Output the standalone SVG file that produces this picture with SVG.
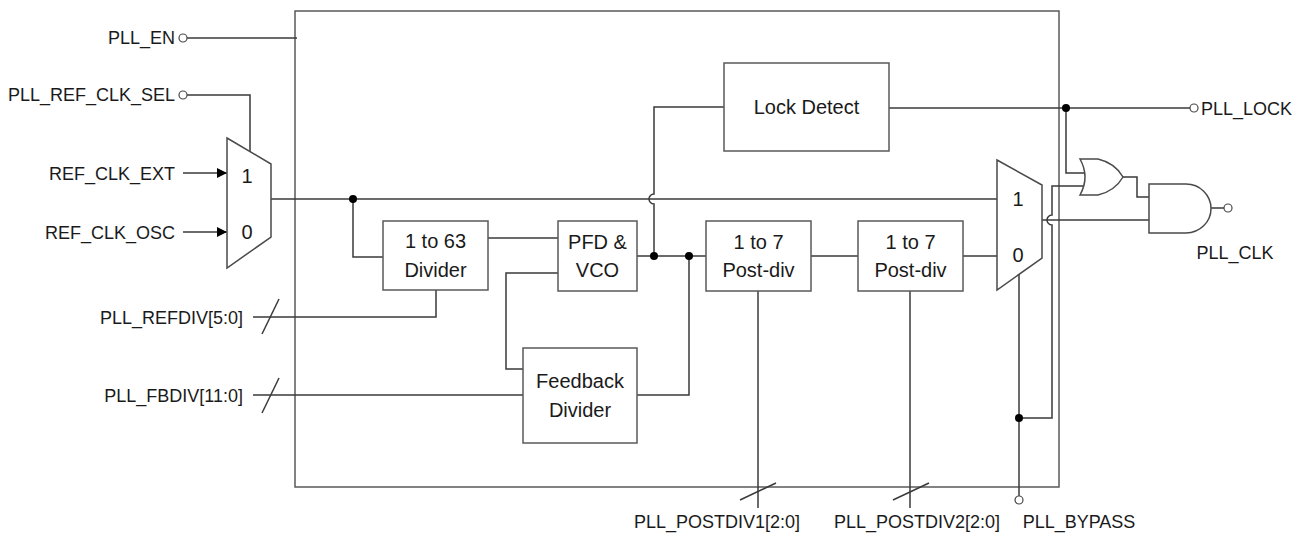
<svg xmlns="http://www.w3.org/2000/svg" width="1308" height="538" viewBox="0 0 1308 538">
<defs>
<style>
.box{fill:#fff;stroke:#5a5a5a;stroke-width:1.5}
.w{fill:none;stroke:#3a3a3a;stroke-width:1.5}
.gate{fill:#fff;stroke:#4a4a4a;stroke-width:1.5}
.pin{fill:#fff;stroke:#4a4a4a;stroke-width:1.2}
.dot{fill:#000}
.lbl{font-family:"Liberation Sans",Arial,sans-serif;font-size:18px;fill:#1a1a1a}
.in{font-family:"Liberation Sans",Arial,sans-serif;font-size:20px;fill:#1a1a1a;text-anchor:middle}
</style>
<marker id="arr" viewBox="0 0 10 10" refX="10" refY="5" markerWidth="10" markerHeight="10" markerUnits="userSpaceOnUse" orient="auto">
<path d="M0,0 L10,5 L0,10 Z" fill="#000"/>
</marker>
</defs>
<rect width="1308" height="538" fill="#fff"/>

<g id="pll-block"><rect class="box" x="295" y="11" width="764" height="476"/></g>

<g id="connectors">
<path class="w" d="M187,38 L297,38"/>
<path class="w" d="M187,95 L250,95 L250,152"/>
<path class="w" d="M183,173 L227,173" marker-end="url(#arr)"/>
<path class="w" d="M183,232 L227,232" marker-end="url(#arr)"/>
<path class="w" d="M271,199 L997,199"/>
<path class="w" d="M353,199 L353,257 L383,257"/>
<path class="w" d="M488,238 L558,238"/>
<path class="w" d="M558,273 L506,273 L506,369 L523,369"/>
<path class="w" d="M253,317 L436,317 L436,290"/>
<path class="w" d="M262,334 L279,299"/>
<path class="w" d="M253,395 L523,395"/>
<path class="w" d="M262,413 L279,378"/>
<path class="w" d="M637,256 L706,256"/>
<path class="w" d="M811,256 L858,256"/>
<path class="w" d="M963,256 L997,256"/>
<path class="w" d="M689,256 L689,395 L637,395"/>
<path class="w" d="M654,256 L654,204 A5,5 0 0,1 654,194 L654,107 L724,107"/>
<path class="w" d="M889,108 L1190,108"/>
<path class="w" d="M1066,108 L1066,173 L1085,173"/>
<path class="w" d="M1084,186 L1052,186 L1052,215 A5,5 0 0,0 1052,225 L1052,418 L1019,418"/>
<path class="w" d="M1019,274 L1019,496"/>
<path class="w" d="M1042,220 L1149,220"/>
<path class="w" d="M1123,177 L1137,177 L1137,197 L1149,197"/>
<path class="w" d="M1211,208 L1224,208"/>
<path class="w" d="M758,291 L758,508"/>
<path class="w" d="M740,500 L776,483"/>
<path class="w" d="M910,291 L910,508"/>
<path class="w" d="M893,500 L929,483"/>
<circle class="dot" cx="353" cy="199" r="4"/>
<circle class="dot" cx="654" cy="256" r="4"/>
<circle class="dot" cx="689" cy="256" r="4"/>
<circle class="dot" cx="1066" cy="108" r="4"/>
<circle class="dot" cx="1019" cy="418" r="4"/>
<circle class="pin" cx="183" cy="38" r="4"/>
<circle class="pin" cx="183" cy="95" r="4"/>
<circle class="pin" cx="1194" cy="108" r="4"/>
<circle class="pin" cx="1228" cy="208" r="4"/>
<circle class="pin" cx="1019" cy="500" r="4"/>
</g>

<g id="labels">
<text class="lbl" x="175" y="44" text-anchor="end">PLL_EN</text>
<text class="lbl" x="175" y="101" text-anchor="end">PLL_REF_CLK_SEL</text>
<text class="lbl" x="175" y="180" text-anchor="end">REF_CLK_EXT</text>
<text class="lbl" x="175" y="239" text-anchor="end">REF_CLK_OSC</text>
<text class="lbl" x="243" y="324" text-anchor="end">PLL_REFDIV[5:0]</text>
<text class="lbl" x="243" y="402" text-anchor="end">PLL_FBDIV[11:0]</text>
<text class="lbl" x="1201" y="115">PLL_LOCK</text>
<text class="lbl" x="1235" y="259" text-anchor="middle">PLL_CLK</text>
<text class="lbl" x="717" y="528" text-anchor="middle">PLL_POSTDIV1[2:0]</text>
<text class="lbl" x="917" y="528" text-anchor="middle">PLL_POSTDIV2[2:0]</text>
<text class="lbl" x="1079" y="528" text-anchor="middle">PLL_BYPASS</text>
</g>

<g id="mux-ref">
<path class="gate" d="M227,138 L271,164 L271,237 L227,268 Z"/>
<text class="in" x="247" y="183">1</text>
<text class="in" x="247" y="239">0</text>
</g>

<g id="divider-ref">
<rect class="box" x="383" y="221" width="105" height="69"/>
<text class="in" x="435.5" y="248">1 to 63</text>
<text class="in" x="435.5" y="277">Divider</text>
</g>

<g id="pfd-vco">
<rect class="box" x="558" y="221" width="79" height="70"/>
<text class="in" x="597.5" y="249">PFD &amp;</text>
<text class="in" x="597.5" y="277">VCO</text>
</g>

<g id="feedback-divider">
<rect class="box" x="523" y="348" width="114" height="95"/>
<text class="in" x="580" y="388">Feedback</text>
<text class="in" x="580" y="417">Divider</text>
</g>

<g id="postdiv1">
<rect class="box" x="706" y="221" width="105" height="70"/>
<text class="in" x="758.5" y="249">1 to 7</text>
<text class="in" x="758.5" y="277">Post-div</text>
</g>

<g id="postdiv2">
<rect class="box" x="858" y="221" width="105" height="70"/>
<text class="in" x="910.5" y="249">1 to 7</text>
<text class="in" x="910.5" y="277">Post-div</text>
</g>

<g id="lock-detect">
<rect class="box" x="724" y="63" width="165" height="88"/>
<text class="in" x="806.5" y="114">Lock Detect</text>
</g>

<g id="mux-bypass">
<path class="gate" d="M997,160 L1042,185 L1042,258 L997,290 Z"/>
<text class="in" x="1018" y="206">1</text>
<text class="in" x="1018" y="262">0</text>
</g>

<g id="or-gate">
<path class="gate" d="M1080,159 L1098,159 Q1115,163 1123,177 Q1115,191 1098,195 L1080,195 Q1090,177 1080,159 Z"/>
</g>

<g id="and-gate">
<path class="gate" d="M1149,184 L1186,184 A25,24.5 0 0,1 1186,233 L1149,233 Z"/>
</g>
</svg>
